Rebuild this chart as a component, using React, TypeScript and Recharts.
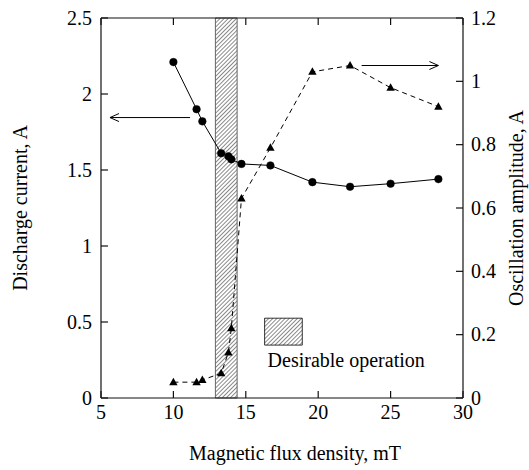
import { ComposedChart, Line, XAxis, YAxis, ReferenceArea, ReferenceLine, Label } from 'recharts'

// magnetic flux density, mT
const FLUX = [10, 11.6, 12, 13.3, 13.8, 14, 14.7, 16.7, 19.6, 22.2, 25, 28.3]
// discharge current, A (left axis)
const DISCHARGE = [2.21, 1.9, 1.82, 1.61, 1.59, 1.57, 1.54, 1.53, 1.42, 1.39, 1.41, 1.44]
// oscillation amplitude, A (right axis)
const OSCILLATION = [0.05, 0.05, 0.057, 0.078, 0.144, 0.22, 0.63, 0.79, 1.03, 1.05, 0.98, 0.92]

const X_TICKS = [5, 10, 15, 20, 25, 30]
const LEFT_TICKS = [0, 0.5, 1, 1.5, 2, 2.5]
const RIGHT_TICKS = [0, 0.2, 0.4, 0.6, 0.8, 1, 1.2]

// desirable operation band, mT
const BAND = [12.9, 14.4]
// legend swatch box (x in mT, y in left-axis A)
const SWATCH_X = [16.3, 18.9]
const SWATCH_Y = [0.348, 0.525]
// arrows pointing at each series' axis
const LEFT_ARROW = [{ x: 11.15, y: 1.845 }, { x: 5.62, y: 1.845 }]
const RIGHT_ARROW = [{ x: 23.0, y: 1.05 }, { x: 28.3, y: 1.05 }]

const FONT = '"Liberation Serif", "Times New Roman", serif'
const TICK_LEN = 7
const AXIS = { stroke: '#111', strokeWidth: 1.2 }

const data = FLUX.map((b, i) => ({ b, current: DISCHARGE[i], amp: OSCILLATION[i] }))

// inward tick mark + label, drawn per axis side
function InTick(props: any) {
  const { x, y, payload, side } = props
  const v = payload?.value
  let line = null
  let label = null
  if (side === 'bottom') {
    line = <line x1={x} y1={y} x2={x} y2={y - TICK_LEN} {...AXIS} />
    label = (
      <text x={x} y={y + 21} textAnchor="middle" fontSize={20} fontFamily={FONT} fill="#000">
        {v}
      </text>
    )
  } else if (side === 'top') {
    line = <line x1={x} y1={y} x2={x} y2={y + TICK_LEN} {...AXIS} />
  } else if (side === 'left') {
    line = <line x1={x} y1={y} x2={x + TICK_LEN} y2={y} {...AXIS} />
    label = (
      <text x={x - 9} y={y} dy="0.34em" textAnchor="end" fontSize={20} fontFamily={FONT} fill="#000">
        {v}
      </text>
    )
  } else {
    line = <line x1={x} y1={y} x2={x - TICK_LEN} y2={y} {...AXIS} />
    label = (
      <text x={x + 8} y={y} dy="0.34em" textAnchor="start" fontSize={20} fontFamily={FONT} fill="#000">
        {v}
      </text>
    )
  }
  return (
    <g>
      {line}
      {label}
    </g>
  )
}

function Triangle(props: any) {
  const { cx, cy, index } = props
  if (cx == null || cy == null) return <g key={index} />
  return (
    <polygon
      key={index}
      points={`${cx},${cy - 4.5} ${cx - 4.2},${cy + 3} ${cx + 4.2},${cy + 3}`}
      fill="#000"
    />
  )
}

function Arrow(props: any) {
  const { x1, y1, x2, y2 } = props
  const dir = Math.sign(x2 - x1)
  return (
    <g>
      <line x1={x1} y1={y1} x2={x2} y2={y2} stroke="#000" strokeWidth={1} />
      <path
        d={`M${x2 - dir * 9},${y2 - 4} L${x2},${y2} L${x2 - dir * 9},${y2 + 4}`}
        fill="none"
        stroke="#000"
        strokeWidth={1}
      />
    </g>
  )
}

function VTitle({ viewBox, text, dx }: any) {
  if (!viewBox) return null
  const x = viewBox.x + dx
  const y = viewBox.y + viewBox.height / 2
  return (
    <text
      x={x}
      y={y}
      transform={`rotate(-90, ${x}, ${y})`}
      textAnchor="middle"
      dominantBaseline="central"
      fontSize={20}
      fontFamily={FONT}
      fill="#000"
    >
      {text}
    </text>
  )
}

export default function App() {
  return (
    <div style={{ position: 'absolute', left: 0, top: 0, background: '#fff' }}>
      <ComposedChart width={529} height={470} data={data} margin={{ top: 17, right: 0, bottom: 0, left: 0 }}>
        <defs>
          <pattern id="hatch" patternUnits="userSpaceOnUse" width="2.9" height="2.9" patternTransform="rotate(45)">
            <rect width="2.9" height="2.9" fill="#fff" />
            <line x1="0" y1="0" x2="0" y2="2.9" stroke="#000" strokeWidth="0.9" />
          </pattern>
        </defs>
        <XAxis
          xAxisId="b"
          dataKey="b"
          type="number"
          domain={[5, 30]}
          ticks={X_TICKS}
          height={72}
          tickSize={0}
          tickMargin={0}
          tickLine={false}
          tick={<InTick side="bottom" />}
          axisLine={AXIS}
        >
          <Label
            content={({ viewBox }: any) =>
              viewBox ? (
                <text x={viewBox.x + 194} y={viewBox.y + 62} textAnchor="middle" fontSize={20} fontFamily={FONT} fill="#000">
                  Magnetic flux density, mT
                </text>
              ) : null
            }
          />
        </XAxis>
        <XAxis
          xAxisId="top"
          dataKey="b"
          type="number"
          orientation="top"
          domain={[5, 30]}
          ticks={X_TICKS}
          height={1}
          tickSize={0}
          tickMargin={0}
          tickLine={false}
          tick={<InTick side="top" />}
          axisLine={AXIS}
        />
        <YAxis
          yAxisId="left"
          type="number"
          domain={[0, 2.5]}
          ticks={LEFT_TICKS}
          width={101}
          tickSize={0}
          tickMargin={0}
          tickLine={false}
          tick={<InTick side="left" />}
          axisLine={AXIS}
        >
          <Label content={(p: any) => <VTitle viewBox={p.viewBox} text="Discharge current, A" dx={20} />} />
        </YAxis>
        <YAxis
          yAxisId="right"
          orientation="right"
          type="number"
          domain={[0, 1.2]}
          ticks={RIGHT_TICKS}
          width={66}
          tickSize={0}
          tickMargin={0}
          tickLine={false}
          tick={<InTick side="right" />}
          axisLine={AXIS}
        >
          <Label content={(p: any) => <VTitle viewBox={p.viewBox} text="Oscillation amplitude, A" dx={53} />} />
        </YAxis>

        <ReferenceArea
          xAxisId="b"
          yAxisId="left"
          x1={BAND[0]}
          x2={BAND[1]}
          fill="url(#hatch)"
          fillOpacity={1}
          stroke="#666"
          strokeWidth={1}
        />
        <ReferenceArea
          xAxisId="b"
          yAxisId="left"
          x1={SWATCH_X[0]}
          x2={SWATCH_X[1]}
          y1={SWATCH_Y[0]}
          y2={SWATCH_Y[1]}
          fill="url(#hatch)"
          fillOpacity={1}
          stroke="#000"
          strokeWidth={0.8}
          label={({ viewBox }: any) =>
            viewBox ? (
              <text x={viewBox.x + 3} y={viewBox.y + viewBox.height + 22} fontSize={20} fontFamily={FONT} fill="#000">
                Desirable operation
              </text>
            ) : null
          }
        />
        <ReferenceLine xAxisId="b" yAxisId="left" segment={LEFT_ARROW} shape={Arrow} />
        <ReferenceLine xAxisId="b" yAxisId="right" segment={RIGHT_ARROW} shape={Arrow} />

        <Line
          xAxisId="b"
          yAxisId="left"
          dataKey="current"
          type="linear"
          stroke="#000"
          strokeWidth={1}
          dot={{ r: 3.8, fill: '#000', stroke: '#000', strokeWidth: 0.5 }}
          isAnimationActive={false}
        />
        <Line
          xAxisId="b"
          yAxisId="right"
          dataKey="amp"
          type="linear"
          stroke="#000"
          strokeWidth={1}
          strokeDasharray="5 4"
          dot={Triangle}
          isAnimationActive={false}
        />
      </ComposedChart>
    </div>
  )
}
